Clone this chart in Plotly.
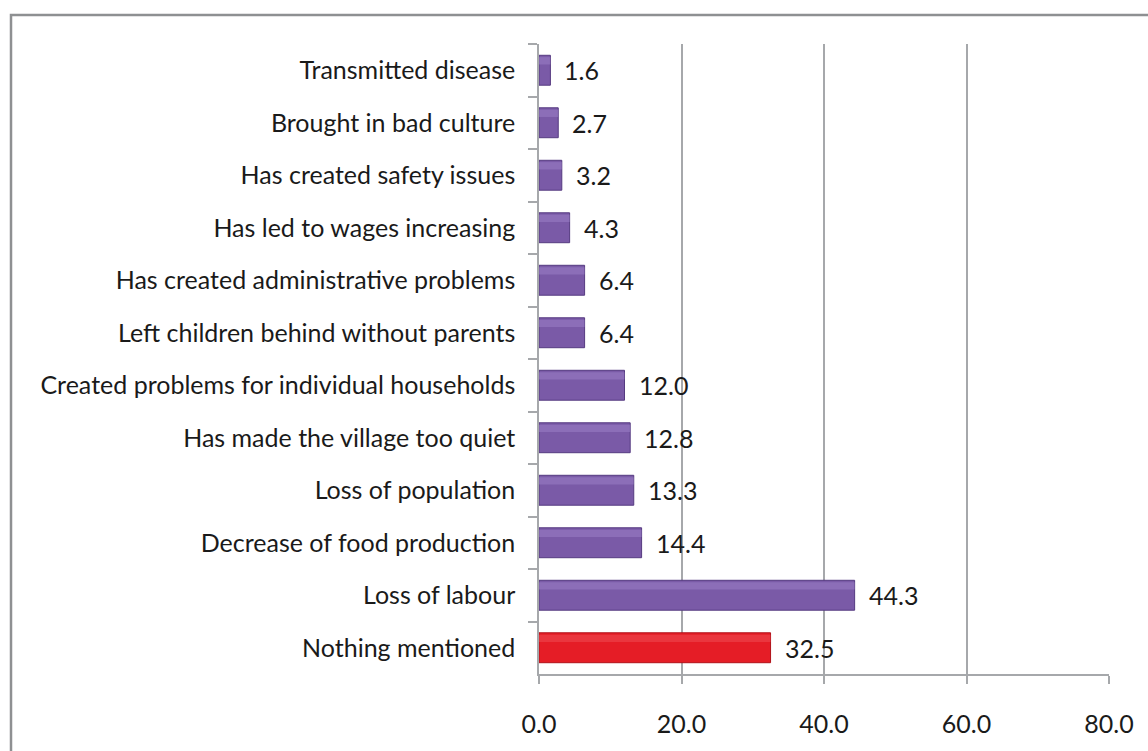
import plotly.graph_objects as go

categories = [
    "Transmitted disease",
    "Brought in bad culture",
    "Has created safety issues",
    "Has led to wages increasing",
    "Has created administrative problems",
    "Left children behind without parents",
    "Created problems for individual households",
    "Has made the village too quiet",
    "Loss of population",
    "Decrease of food production",
    "Loss of labour",
    "Nothing mentioned",
]
values = [1.6, 2.7, 3.2, 4.3, 6.4, 6.4, 12.0, 12.8, 13.3, 14.4, 44.3, 32.5]
x_ticks = [0, 20, 40, 60, 80]
x_tick_labels = ["0.0", "20.0", "40.0", "60.0", "80.0"]

PURPLE = "#7A5AA7"
PURPLE_HI = "#9A80C6"
PURPLE_EDGE = "#553A80"
RED = "#E51D26"
RED_HI = "#EE4B52"
RED_EDGE = "#B0121A"

is_red = [c == "Nothing mentioned" for c in categories]
colors = [RED if r else PURPLE for r in is_red]
hi_colors = [RED_HI if r else PURPLE_HI for r in is_red]
edges = [RED_EDGE if r else PURPLE_EDGE for r in is_red]

FONT = "Lato"
W, H = 1148, 751
L, R, T, B = 539, 39, 44, 77

fig = go.Figure()
fig.add_trace(go.Bar(
    x=values, y=categories, orientation="h",
    marker=dict(color=colors, line=dict(color=edges, width=1)),
    width=0.57, offset=-0.285, hoverinfo="x+y", showlegend=False,
))
# highlight band (upper part of each bar) for a bevelled look
fig.add_trace(go.Bar(
    x=values, y=categories, orientation="h",
    marker=dict(color=hi_colors, line=dict(width=0), opacity=0.55),
    width=0.14, offset=-0.25, hoverinfo="skip", showlegend=False,
))

for c, v in zip(categories, values):
    fig.add_annotation(
        x=v, y=c, xref="x", yref="y", text=f"{v:.1f}",
        showarrow=False, xanchor="left", xshift=12,
        font=dict(family=FONT, size=25, color="#1a1a1a"),
    )

pw = W - L - R
ph = H - T - B
def px_to_paper_x(px):
    return (px - L) / pw
def px_to_paper_y(py):
    return (H - B - py) / ph

# outer frame (top and left visible)
fig.add_shape(type="rect", xref="paper", yref="paper",
              x0=px_to_paper_x(11), x1=px_to_paper_x(1170),
              y0=px_to_paper_y(780), y1=px_to_paper_y(15),
              line=dict(color="#8E9092", width=2.5), fillcolor="rgba(0,0,0,0)", layer="below")

fig.update_layout(
    width=W, height=H,
    margin=dict(l=L, r=R, t=T, b=B, autoexpand=False),
    paper_bgcolor="white", plot_bgcolor="white",
    font=dict(family=FONT, size=25, color="#1a1a1a"),
    barmode="overlay",
    xaxis=dict(
        range=[0, 80], tickvals=x_ticks, ticktext=x_tick_labels,
        showgrid=True, gridcolor="#A6A8AB", gridwidth=1.5,
        showline=True, linecolor="#A6A8AB", linewidth=1.5,
        ticks="outside", ticklen=8, tickcolor="#A6A8AB", tickwidth=1.5,
        zeroline=False, tickfont=dict(family=FONT, size=25, color="#1a1a1a"),
        ticklabelstandoff=19,
    ),
    yaxis=dict(
        autorange="reversed", type="category",
        showgrid=False, showline=True, linecolor="#A6A8AB", linewidth=1.5,
        ticks="outside", ticklen=9, tickcolor="#A6A8AB", tickwidth=1.5,
        tickson="boundaries", ticklabelstandoff=17,
        tickfont=dict(family=FONT, size=25, color="#1a1a1a"),
    ),
)

fig.write_html("out.html", config={"displayModeBar": False},
               post_script="document.body.style.margin='0px';document.body.style.overflow='hidden';")
